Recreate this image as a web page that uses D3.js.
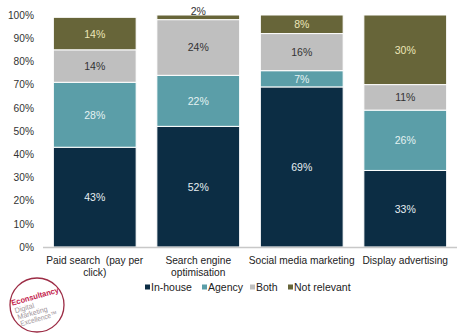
<!DOCTYPE html>
<html>
<head>
<meta charset="utf-8">
<script src="https://cdn.jsdelivr.net/npm/d3@7"></script>
<style>
  html, body { margin: 0; padding: 0; background: #fff; }
  svg { display: block; font-family: "Liberation Sans", Arial, sans-serif; }
</style>
</head>
<body>
<svg id="chart" width="467" height="333"></svg>
<script>
// Channels (x axis) and how each one is managed, in percent
const categories = ["Paid search  (pay per|click)", "Search engine|optimisation", "Social media marketing", "Display advertising"];
const seriesNames = ["In-house", "Agency", "Both", "Not relevant"];
const inHouse     = [43, 52, 69, 33];
const agency      = [28, 22, 7, 26];
const both        = [14, 24, 16, 11];
const notRelevant = [14, 2, 8, 30];
const yTicks = [0, 10, 20, 30, 40, 50, 60, 70, 80, 90, 100];

const colors = ["#0c2d44", "#5b9ea8", "#bfbfbf", "#676539"];
const labelColors = ["#e6eef2", "#e4f2f2", "#333333", "#ece6b8"];

const svg = d3.select("#chart");
const margin = { left: 43, right: 10, top: 15, bottom: 86 };
const W = 467, H = 333;

const rows = categories.map((c, i) => ({
  cat: c,
  "In-house": inHouse[i],
  "Agency": agency[i],
  "Both": both[i],
  "Not relevant": notRelevant[i]
}));
const stacked = d3.stack().keys(seriesNames)(rows);

const x = d3.scaleBand().domain(categories).range([margin.left, W - margin.right]).paddingInner(0.2).paddingOuter(0.1);
const y = d3.scaleLinear().domain([0, 100]).range([H - margin.bottom, margin.top]);

// y axis tick labels
const yAxis = svg.append("g")
  .attr("transform", `translate(${margin.left},0)`)
  .call(d3.axisLeft(y).tickValues(yTicks).tickFormat(d => d + "%").tickSize(0).tickPadding(9));
yAxis.select(".domain").remove();
yAxis.selectAll("text").attr("font-size", 10.2).attr("fill", "#333").attr("font-family", "Liberation Sans, Arial, sans-serif");

// stacked bars
const layer = svg.append("g").selectAll("g").data(stacked).join("g")
  .attr("fill", (d, i) => colors[i]);
layer.selectAll("rect").data(d => d).join("rect")
  .attr("x", d => x(d.data.cat))
  .attr("width", x.bandwidth())
  .attr("y", d => y(d[1]))
  .attr("height", d => y(d[0]) - y(d[1]))
  .attr("stroke", "#fff")
  .attr("stroke-width", 1);

// segment value labels
stacked.forEach((s, si) => {
  s.forEach(d => {
    const v = d[1] - d[0];
    const small = v < 5;
    svg.append("text")
      .attr("x", x(d.data.cat) + x.bandwidth() / 2)
      .attr("y", small ? y(d[1]) : (y(d[0]) + y(d[1])) / 2 + 4)
      .attr("text-anchor", "middle")
      .attr("font-size", 10.5)
      .attr("fill", small ? "#333" : labelColors[si])
      .text(v + "%");
  });
});

// x axis baseline
svg.append("line")
  .attr("x1", margin.left).attr("x2", W - margin.right)
  .attr("y1", y(0) + 0.5).attr("y2", y(0) + 0.5)
  .attr("stroke", "#c8c8c8").attr("stroke-width", 1.5);

// category labels (two lines where needed)
categories.forEach(c => {
  const lines = c.split("|");
  const t = svg.append("text")
    .attr("text-anchor", "middle")
    .attr("font-size", 10.2)
    .attr("fill", "#222");
  lines.forEach((ln, i) => {
    t.append("tspan")
      .attr("x", x(c) + x.bandwidth() / 2)
      .attr("y", y(0) + 17 + i * 12)
      .attr("xml:space", "preserve")
      .text(ln);
  });
});

// legend
const legendX = [145, 202, 250, 288];
const legend = svg.append("g");
seriesNames.forEach((n, i) => {
  legend.append("rect")
    .attr("x", legendX[i]).attr("y", 284.5)
    .attr("width", 5).attr("height", 5)
    .attr("fill", colors[i]);
  legend.append("text")
    .attr("x", legendX[i] + 6).attr("y", 291)
    .attr("font-size", 10.5).attr("fill", "#222")
    .text(n);
});

// Econsultancy badge
const badge = svg.append("g").attr("transform", "translate(37,305)");
badge.append("circle").attr("r", 27).attr("fill", "none").attr("stroke", "#9c2c45").attr("stroke-width", 1.3);
const bt = badge.append("g").attr("transform", "rotate(-16)");
bt.append("text").attr("x", -24).attr("y", -6).attr("font-size", 8)
  .attr("font-weight", "bold").attr("fill", "#c4234d")
  .attr("textLength", 49).attr("lengthAdjust", "spacingAndGlyphs").text("Econsultancy");
[["Digital", 20], ["Marketing", 31], ["Excellence\u2122", 38]].forEach(([w, len], i) => {
  bt.append("text").attr("x", -23 + i * 1).attr("y", 2 + i * 7)
    .attr("font-size", 7.5).attr("fill", "#a0949a")
    .attr("textLength", len).attr("lengthAdjust", "spacingAndGlyphs").text(w);
});
</script>
</body>
</html>
